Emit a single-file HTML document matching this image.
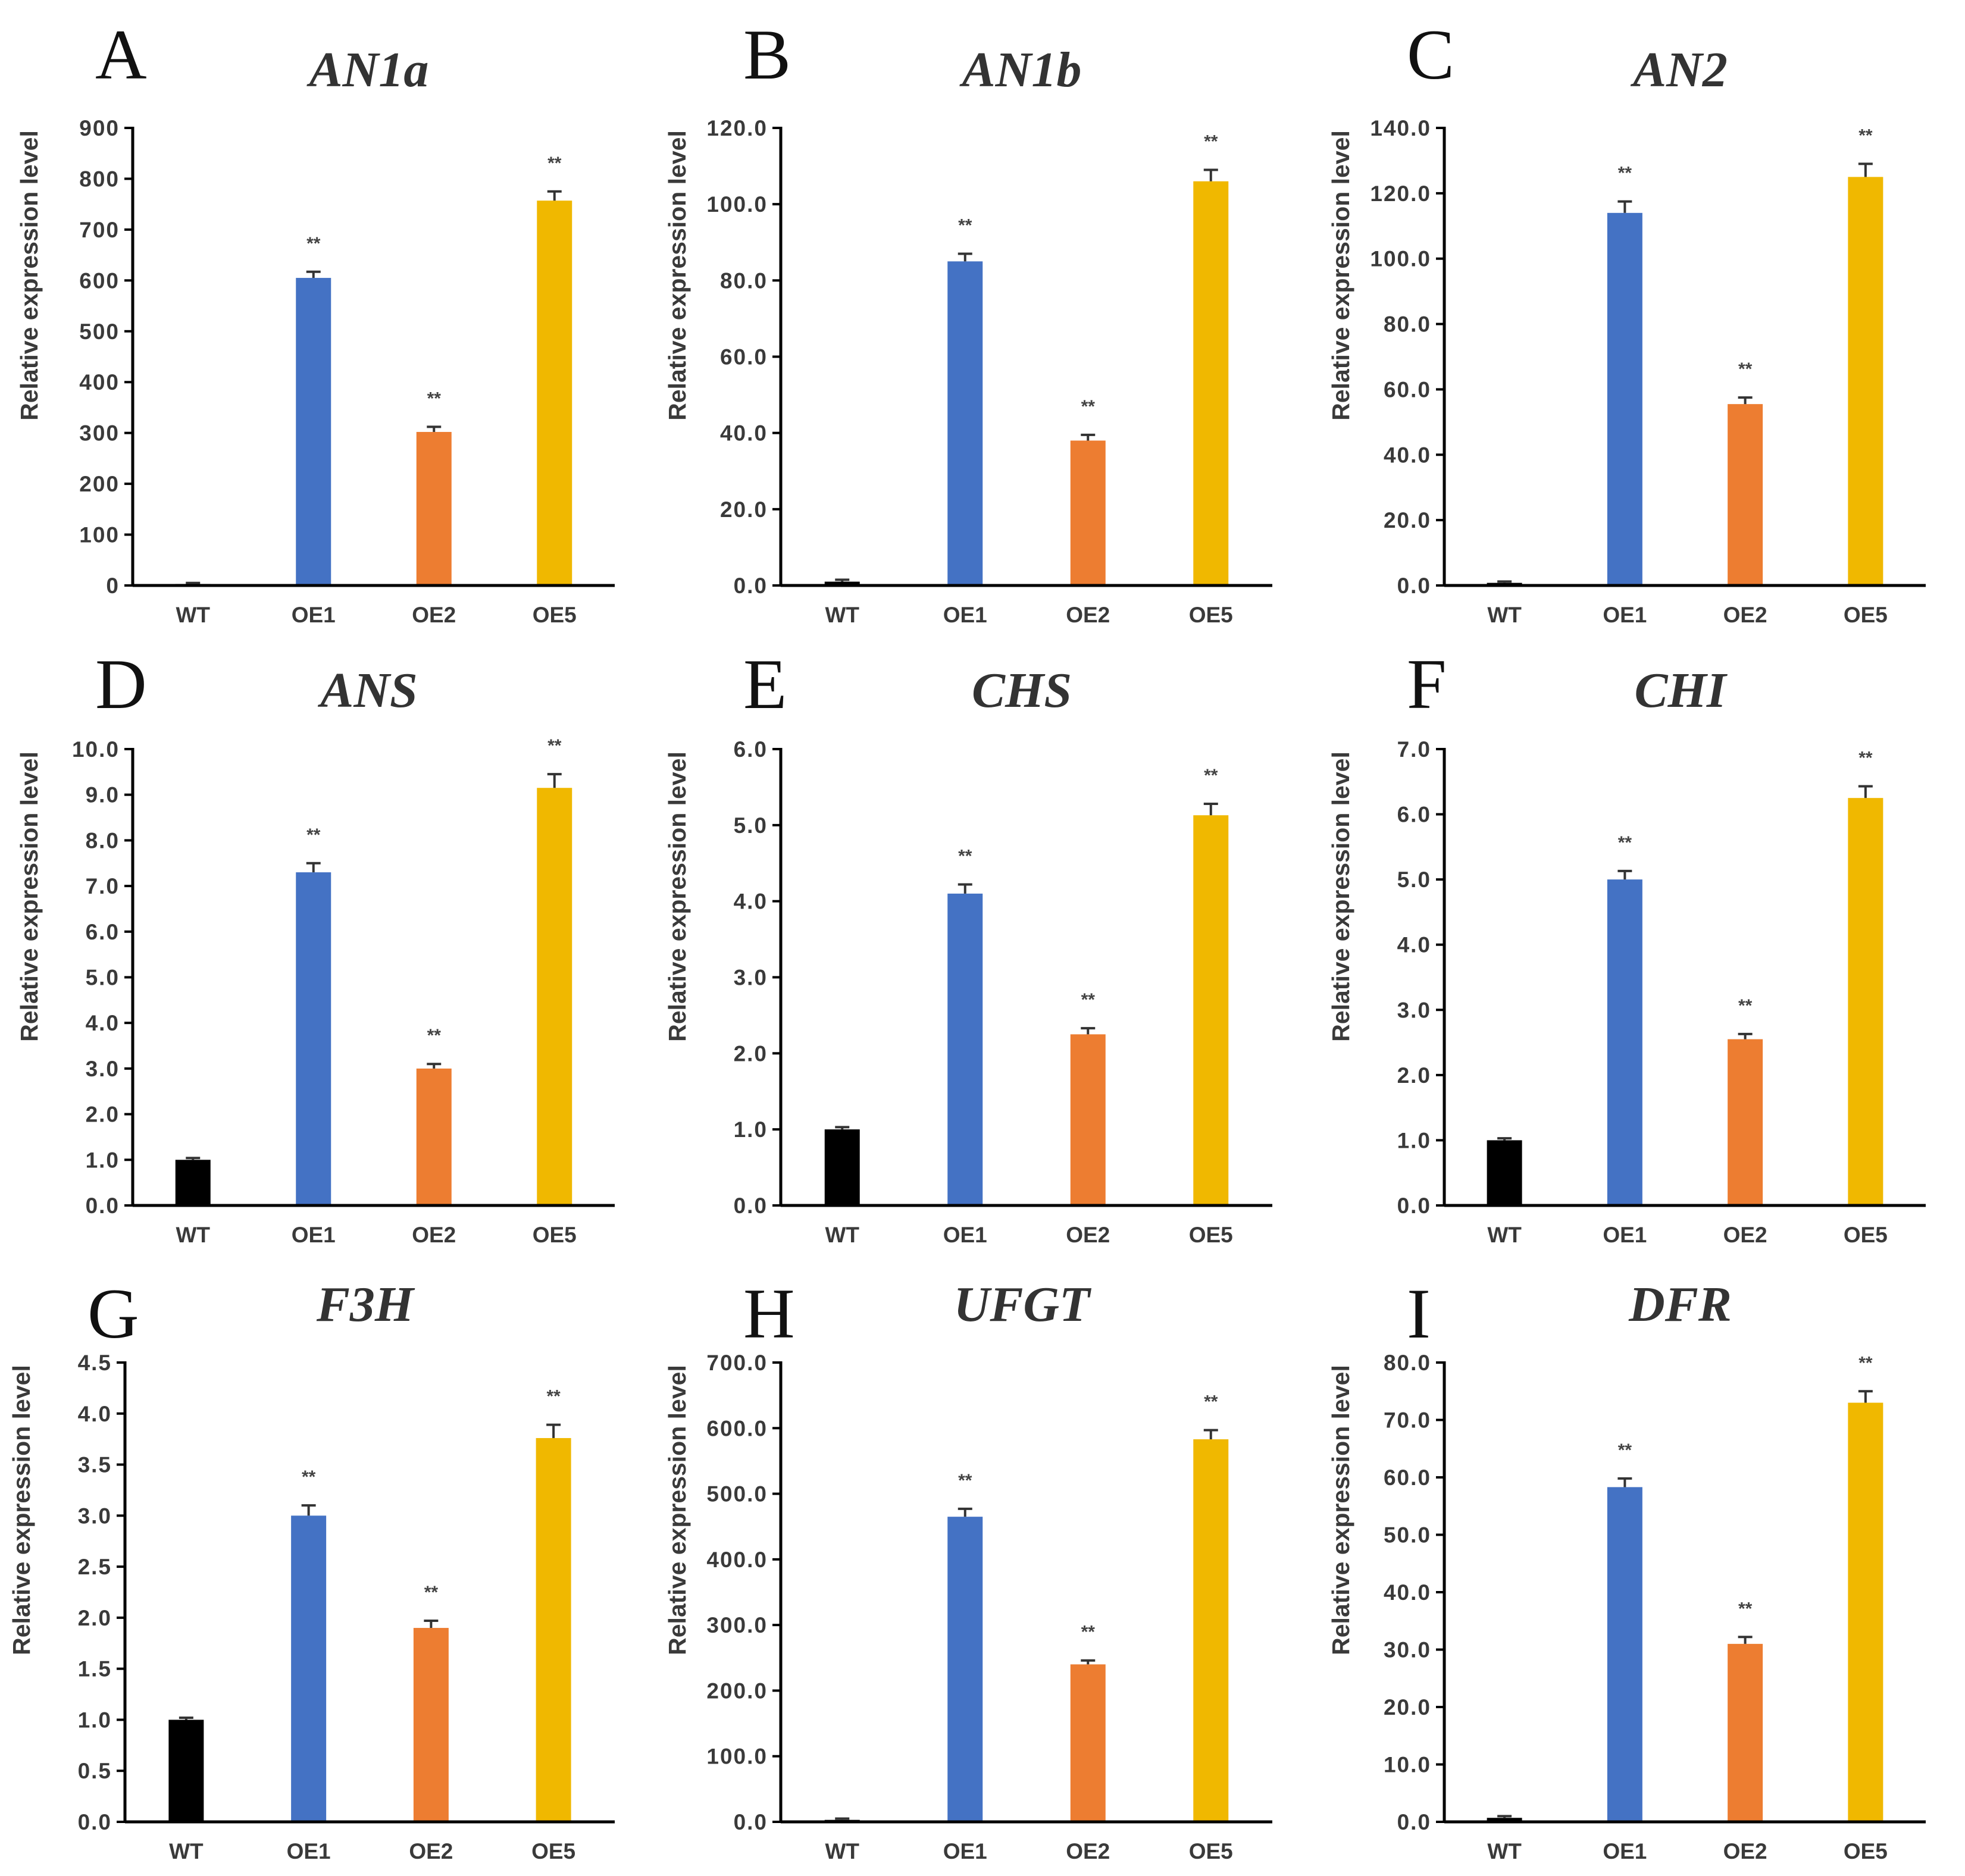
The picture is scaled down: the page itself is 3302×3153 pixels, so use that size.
<!DOCTYPE html>
<html><head><meta charset="utf-8"><style>
html,body{margin:0;padding:0;background:#fff;}
svg{display:block;}
</style></head><body>
<svg id="fig" xmlns="http://www.w3.org/2000/svg" width="3302" height="3153" viewBox="0 0 3302 3153"></svg>
<script>
const categories = ["WT","OE1","OE2","OE5"];
const panelLetters = ["A","B","C","D","E","F","G","H","I"];
const geneNames = ["AN1a","AN1b","AN2","ANS","CHS","CHI","F3H","UFGT","DFR"];
const valuesA = [3,605,302,757];     const errA = [2,12,10,18];
const valuesB = [1,85,38,106];       const errB = [0.5,2,1.5,3];
const valuesC = [0.8,114,55.5,125];  const errC = [0.4,3.5,2,4];
const valuesD = [1.0,7.3,3.0,9.15];  const errD = [0.04,0.2,0.1,0.3];
const valuesE = [1.0,4.1,2.25,5.13]; const errE = [0.03,0.12,0.08,0.15];
const valuesF = [1.0,5.0,2.55,6.25]; const errF = [0.03,0.13,0.08,0.18];
const valuesG = [1.0,3.0,1.9,3.76];  const errG = [0.02,0.1,0.07,0.13];
const valuesH = [3,465,240,583];     const errH = [2,12,6,14];
const valuesI = [0.7,58.3,31,73];    const errI = [0.3,1.5,1.2,2];
const yMax = [900,120,140,10,6,7,4.5,700,80];
const yStep = [100,20,20,1,1,1,0.5,100,10];
const yDecimals = [0,1,1,1,1,1,1,1,1];
const sigMarks = ["","**","**","**"];

const allVals=[valuesA,valuesB,valuesC,valuesD,valuesE,valuesF,valuesG,valuesH,valuesI];
const allErr=[errA,errB,errC,errD,errE,errF,errG,errH,errI];
const colors=["#000000","#4472C4","#ED7D31","#F0B800"];
const colX=[[223,1033],[1312,2138],[2427,3236]];
const rowY=[[215,984],[1259,2026],[2290,3062]];
const rowLetterY=[132,1190,2248];
const rowTitleY=[145,1188,2220];
const NS="http://www.w3.org/2000/svg";
const svg=document.getElementById('fig');
function mk(tag,attrs,parent){const e=document.createElementNS(NS,tag);for(const k in attrs)e.setAttribute(k,attrs[k]);(parent||svg).appendChild(e);return e;}
const TXT="#3a3a3a";
for(let p=0;p<9;p++){
  const r=Math.floor(p/3),c=p%3;
  let [x0,x1]=colX[c]; if(p===6) x0=210;
  const [yt,yb]=rowY[r];
  const g=mk('g',{});
  
  
  const ys=v=>yb-(v/yMax[p])*(yb-yt);
  const xs=i=>x0+(i+0.5)/4*(x1-x0);
  const bw=59;
  const L=mk('text',{x:x0-63,y:rowLetterY[r],'font-family':'Liberation Serif, serif','font-size':120,fill:'#111'},g);
  L.textContent=panelLetters[p];
  
  
  const T=mk('text',{x:(x0+x1)/2-8,y:rowTitleY[r],'text-anchor':'middle','font-family':'Liberation Serif, serif','font-size':84,'font-weight':'bold','font-style':'italic',fill:'#333'},g);
  T.textContent=geneNames[p];
  
  
  const YT=mk('text',{x:0,y:0,transform:`translate(${x0-160},${yt+248}) rotate(-90)`,'text-anchor':'middle','font-family':'Liberation Sans, sans-serif','font-size':41,'font-weight':'bold',fill:TXT},g);
  YT.textContent='Relative expression level';
  
  
  const n=Math.round(yMax[p]/yStep[p]);
  for(let k=0;k<=n;k++){
    const v=k*yStep[p],y=ys(v);
    const tk=mk('line',{x1:x0-14,x2:x0,y1:y,y2:y,stroke:'#000','stroke-width':4},g);
    
    
    const tl=mk('text',{x:x0-22,y:y+13,'text-anchor':'end','font-family':'Liberation Sans, sans-serif','font-size':37,'font-weight':'bold','letter-spacing':2,fill:TXT},g);
    tl.textContent=v.toFixed(yDecimals[p]);
    
    
  }
  const vals=allVals[p],errs=allErr[p];
  for(let i=0;i<4;i++){
    const cx=xs(i),top=ys(vals[i]),et=ys(vals[i]+errs[i]);
    const b=mk('rect',{x:cx-bw/2,y:top,width:bw,height:yb-top,fill:colors[i]},g);
    
    
    const e1=mk('line',{x1:cx,x2:cx,y1:top,y2:et,stroke:'#333','stroke-width':4},g);
    
    
    const e2=mk('line',{x1:cx-12,x2:cx+12,y1:et,y2:et,stroke:'#333','stroke-width':4},g);
    
    
    if(sigMarks[i]){
      const s=mk('text',{x:cx,y:et-38,'text-anchor':'middle','font-family':'Liberation Sans, sans-serif','font-size':30,'font-weight':'bold',fill:'#444'},g);
      s.textContent=sigMarks[i];
      
      
    }
    const xl=mk('text',{x:cx,y:yb+62,'text-anchor':'middle','font-family':'Liberation Sans, sans-serif','font-size':37,'font-weight':'bold',fill:TXT},g);
    xl.textContent=categories[i];
    
    
  }
  const ya=mk('line',{x1:x0,x2:x0,y1:yt-2,y2:yb+2,stroke:'#000','stroke-width':5},g);
  
  
  const xa=mk('line',{x1:x0,x2:x1,y1:yb,y2:yb,stroke:'#000','stroke-width':5},g);
  
  
}
</script>
</body></html>
